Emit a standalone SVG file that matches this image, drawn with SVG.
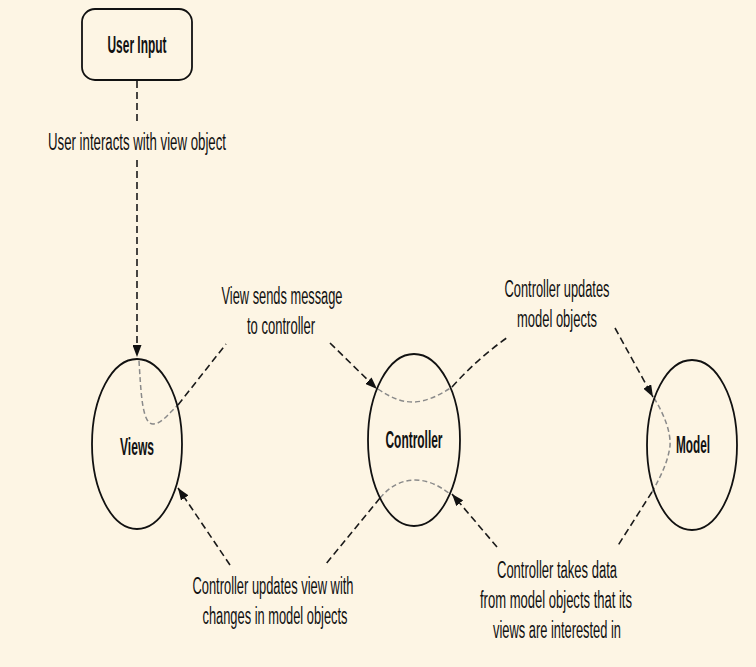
<svg xmlns="http://www.w3.org/2000/svg" width="756" height="667" viewBox="0 0 756 667">
<style>
.bg{fill:#fdf5e4}
.node{fill:none;stroke:#111;stroke-width:1.8}
.lbl{font-family:"Liberation Sans",Arial,sans-serif;font-size:23px;fill:#111;text-anchor:middle}
.b{font-weight:bold;font-size:23px}
.dash{fill:none;stroke:#1a1a1a;stroke-width:1.6;stroke-dasharray:7 4}
.inner{fill:none;stroke:#8a8a8a;stroke-width:1.5;stroke-dasharray:5 3}
</style>
<defs>
<marker id="arr" viewBox="0 0 12 9" refX="12" refY="4.5" markerWidth="12" markerHeight="9" markerUnits="userSpaceOnUse" orient="auto">
<path d="M0,0 L12,4.5 L0,9 z" fill="#111"/>
</marker>
</defs>
<rect class="bg" x="0" y="0" width="756" height="667"/>

<g id="connectors">
<path class="dash" d="M137,81 V124"/>
<path class="dash" d="M137,160 V357" marker-end="url(#arr)"/>
<path class="inner" d="M139,361 C141,392 142,424 153,424 C162,424 170,412 178,405"/>
<path class="dash" d="M178,405 L226,344"/>
<path class="dash" d="M330,343 L377,389" marker-end="url(#arr)"/>
<path class="inner" d="M378,389 C390,397 400,402 413,402 C426,402 440,395 452,387"/>
<path class="dash" d="M452,387 Q478,358 508,337"/>
<path class="dash" d="M615,328 L653,397" marker-end="url(#arr)"/>
<path class="inner" d="M654,398 C664,414 671,432 670,446 C668,462 660,478 652,492"/>
<path class="dash" d="M652,492 L617,547"/>
<path class="dash" d="M497,547 L452,494" marker-end="url(#arr)"/>
<path class="inner" d="M380,498 C390,486 402,480 415,480 C428,480 440,486 450,494"/>
<path class="dash" d="M380,498 L325,565"/>
<path class="dash" d="M230,565 L178,488" marker-end="url(#arr)"/>
</g>

<g id="user-input">
<rect class="node" x="82" y="9" width="110" height="71" rx="13"/>
<text class="lbl b" x="137" y="53" textLength="59" lengthAdjust="spacingAndGlyphs">User Input</text>
</g>
<g id="views">
<ellipse class="node" cx="137" cy="444" rx="45" ry="85"/>
<text class="lbl b" x="137" y="455" textLength="34" lengthAdjust="spacingAndGlyphs">Views</text>
</g>
<g id="controller">
<ellipse class="node" cx="414" cy="440" rx="46" ry="86"/>
<text class="lbl b" x="414" y="448" textLength="57" lengthAdjust="spacingAndGlyphs">Controller</text>
</g>
<g id="model">
<ellipse class="node" cx="692" cy="445" rx="45" ry="85"/>
<text class="lbl b" x="693" y="453" textLength="34" lengthAdjust="spacingAndGlyphs">Model</text>
</g>

<g id="labels">
<text class="lbl" x="137" y="150" textLength="178" lengthAdjust="spacingAndGlyphs">User interacts with view object</text>
<text class="lbl" x="282" y="304" textLength="121" lengthAdjust="spacingAndGlyphs">View sends message</text>
<text class="lbl" x="281" y="334" textLength="68" lengthAdjust="spacingAndGlyphs">to controller</text>
<text class="lbl" x="557" y="297" textLength="105" lengthAdjust="spacingAndGlyphs">Controller updates</text>
<text class="lbl" x="557" y="327" textLength="80" lengthAdjust="spacingAndGlyphs">model objects</text>
<text class="lbl" x="273" y="594" textLength="161" lengthAdjust="spacingAndGlyphs">Controller updates view with</text>
<text class="lbl" x="275" y="624" textLength="145" lengthAdjust="spacingAndGlyphs">changes in model objects</text>
<text class="lbl" x="557" y="578" textLength="120" lengthAdjust="spacingAndGlyphs">Controller takes data</text>
<text class="lbl" x="556" y="608" textLength="152" lengthAdjust="spacingAndGlyphs">from model objects that its</text>
<text class="lbl" x="557" y="638" textLength="128" lengthAdjust="spacingAndGlyphs">views are interested in</text>
</g>
</svg>
